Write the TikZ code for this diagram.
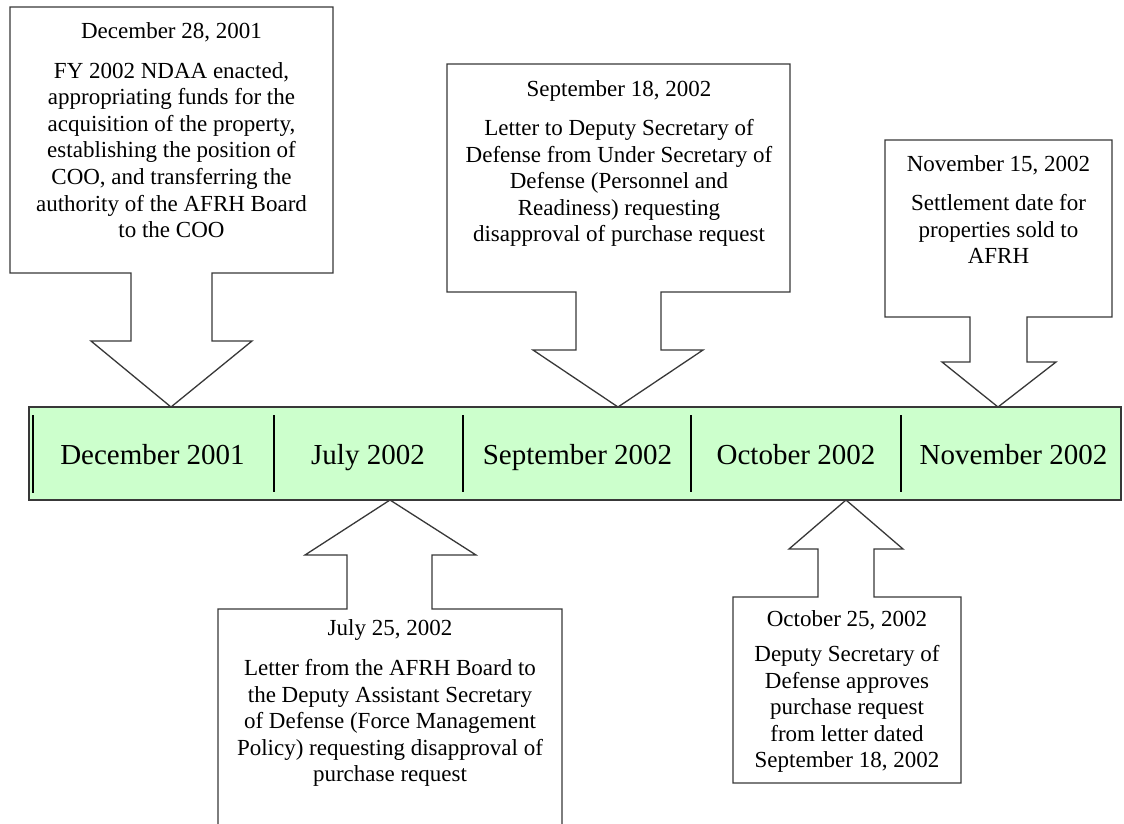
\documentclass[tikz,border=0pt]{standalone}
\usepackage{fontspec}
\setmainfont{Liberation Serif}
\definecolor{outl}{HTML}{383838}
\definecolor{barfill}{HTML}{CCFFCC}
\begin{document}
\begin{tikzpicture}[x=1pt,y=-1pt,line join=miter,
  callout/.style={draw=outl,line width=1.3pt,fill=white},
  datetxt/.style={font=\fontsize{23}{26.6}\selectfont,inner sep=0pt,anchor=north},
  bodytxt/.style={font=\fontsize{23}{26.6}\selectfont,inner sep=0pt,anchor=north,align=center},
  month/.style={font=\fontsize{29}{33}\selectfont,inner sep=0pt,anchor=base},
  divider/.style={draw=black,line width=1.2pt}]
\useasboundingbox (0,0) rectangle (1124,823);
\clip (0,0) rectangle (1124,823);
\fill[white] (0,0) rectangle (1124,823);

% timeline bar
\draw[fill=barfill,draw=outl,line width=1.3pt] (29,407) rectangle (1121,500);
\draw[divider] (33,415) -- (33,493);
\foreach \x in {274,463,691,901} \draw[divider] (\x,415) -- (\x,492);
\node[month] (m1) at (152.5,464) {December 2001};
\node[month] (m2) at (368,464) {July 2002};
\node[month] (m3) at (577.5,464) {September 2002};
\node[month] (m4) at (796,464) {October 2002};
\node[month] (m5) at (1013.5,464) {November 2002};

% callout 1
\draw[callout] (10,7) -- (333,7) -- (333,273) -- (212,273) -- (212,341) -- (252,341) -- (171,407)
  -- (91,341) -- (131,341) -- (131,273) -- (10,273) -- cycle;
\node[datetxt] (d1) at (171.5,22) {December 28, 2001};
\node[bodytxt] (b1) at (171.5,62) {FY 2002 NDAA enacted,\\appropriating funds for the\\acquisition of the property,\\establishing the position of\\COO, and transferring the\\authority of the AFRH Board\\to the COO};

% callout 2
\draw[callout] (447,64) -- (790,64) -- (790,292) -- (661,292) -- (661,350) -- (703,350) -- (618,407)
  -- (533,350) -- (576,350) -- (576,292) -- (447,292) -- cycle;
\node[datetxt] (d2) at (619,80) {September 18, 2002};
\node[bodytxt] (b2) at (619,119) {Letter to Deputy Secretary of\\Defense from Under Secretary of\\Defense (Personnel and\\Readiness) requesting\\disapproval of purchase request};

% callout 3
\draw[callout] (885,140) -- (1112,140) -- (1112,317) -- (1027,317) -- (1027,362) -- (1056,362) -- (998,407)
  -- (942,362) -- (970,362) -- (970,317) -- (885,317) -- cycle;
\node[datetxt] (d3) at (998.5,155) {November 15, 2002};
\node[bodytxt] (b3) at (998.5,194) {Settlement date for\\properties sold to\\AFRH};

% callout 4
\draw[callout] (218,840) -- (218,609) -- (347,609) -- (347,555) -- (305,555) -- (390,500)
  -- (476,555) -- (432,555) -- (432,609) -- (562,609) -- (562,840) -- cycle;
\node[datetxt] (d4) at (390,619) {July 25, 2002};
\node[bodytxt] (b4) at (390,659) {Letter from the AFRH Board to\\the Deputy Assistant Secretary\\of Defense (Force Management\\Policy) requesting disapproval of\\purchase request};

% callout 5
\draw[callout] (733,597) -- (818,597) -- (818,549) -- (789,549) -- (846,500) -- (903,549) -- (874,549)
  -- (874,597) -- (961,597) -- (961,783) -- (733,783) -- cycle;
\node[datetxt] (d5) at (847,610) {October 25, 2002};
\node[bodytxt] (b5) at (847,645) {Deputy Secretary of\\Defense approves\\purchase request\\from letter dated\\September 18, 2002};
\end{tikzpicture}
\end{document}
